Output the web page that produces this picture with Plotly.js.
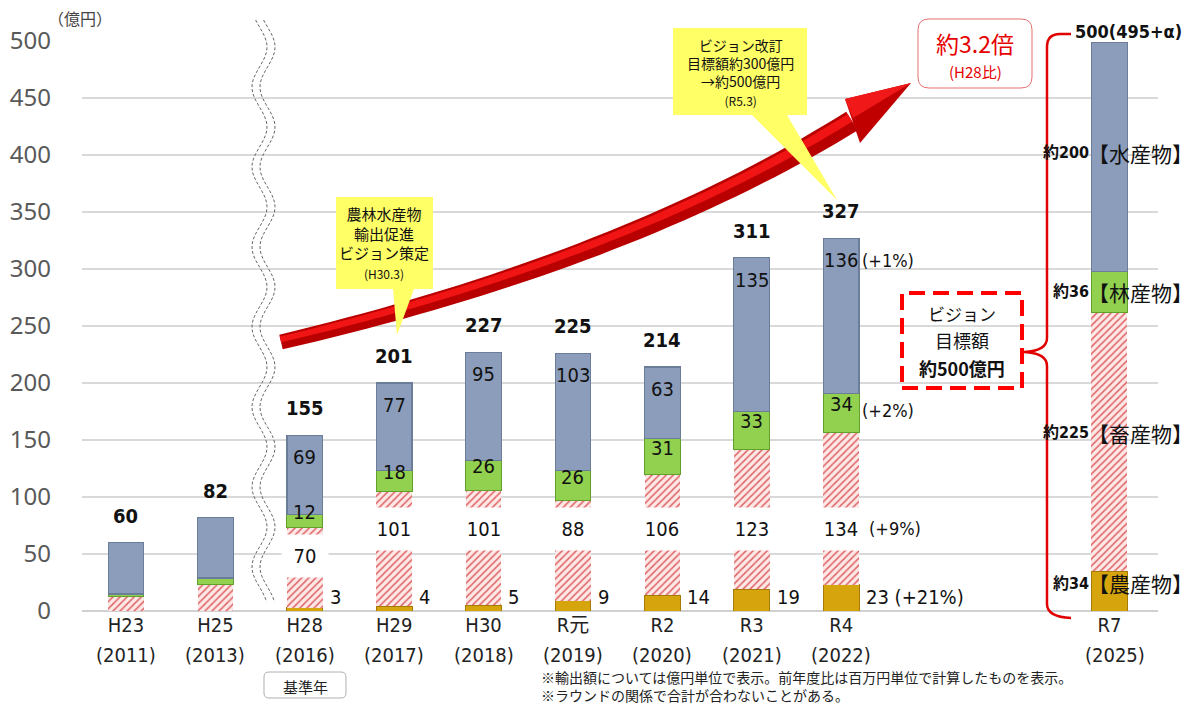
<!DOCTYPE html>
<html><head><meta charset="utf-8">
<script src="https://cdn.plot.ly/plotly-3.0.1.min.js"></script>
<style>html,body{margin:0;padding:0;background:#fff}#chart{width:1196px;height:704px}</style>
</head><body><div id="chart"></div>
<script>
// ---------- data ----------
const categories = ['H23','H25','H28','H29','H30','R元','R2','R3','R4','R7'];
const years = ['2011','2013','2016','2017','2018','2019','2020','2021','2022','2025'];
const agri      = [0, 0, 3, 4, 5, 9, 14, 19, 23, 35];
const livestock = [13, 23, 70, 101, 101, 88, 106, 123, 134, 227];
const forest    = [2, 6, 12, 18, 26, 26, 31, 33, 34, 36];
const fishery   = [45, 53, 69, 77, 95, 103, 63, 135, 136, 201];
const totalLabels     = ['60','82','155','201','227','225','214','311','327','500(495+α)'];
const agriLabels      = ['','','3','4','5','9','14','19','23 (+21%)','約34'];
const livestockLabels = ['','','70','101','101','88','106','123','134','約225'];
const forestLabels    = ['','','12','18','26','26','31','33','34','約36'];
const fisheryLabels   = ['','','69','77','95','103','63','135','136','約200'];
const yoyLivestock = '(+9%)', yoyForest = '(+2%)', yoyFishery = '(+1%)';
const targetNames = ['【農産物】','【畜産物】','【林産物】','【水産物】'];

// ---------- layout helpers ----------
const slot = [0,1,2,3,4,5,6,7,8,11];
const L=82, T=41, W=1076, H=570;
const px = x => (x-L)/W;
const py = y => (T+H-y)/H;
const P = (x,y) => px(x).toFixed(5)+','+py(y).toFixed(5);
const NUM = 'Liberation Sans Narrow, DejaVu Sans Condensed, Liberation Sans, Noto Sans CJK JP, sans-serif';
const JP = 'Noto Sans CJK JP, sans-serif';
const HW = 0.2; // half bar width

const n = categories.length;
const totals = categories.map((_,i)=>agri[i]+livestock[i]+forest[i]+fishery[i]);

const traces = [
  {name:'農産物', y:agri, marker:{color:'#d6a40c', line:{color:'#a47c05', width:1}}},
  {name:'畜産物', y:livestock, marker:{color:'#fde8e8', line:{width:0},
     pattern:{shape:'/', fgcolor:'#e06464', bgcolor:'#fde8e8', size:5, solidity:0.3}}},
  {name:'林産物', y:forest, marker:{color:'#92d050', line:{color:'#62a02c', width:1}}},
  {name:'水産物', y:fishery, marker:{color:'#8b9dba', line:{color:'#6b7d99', width:1.2}}}
].map(t=>Object.assign(t,{type:'bar', x:slot, width:0.4, hoverinfo:'skip', showlegend:false}));

const ann = [];
const A = (o)=>ann.push(Object.assign({showarrow:false, xref:'x', yref:'y', xanchor:'center', yanchor:'middle'}, o));
const F = (s)=>({family:NUM, size:s, color:'#111'});
for (let i=0;i<n-1;i++){
  A({x:slot[i], y:totals[i], yshift:27, text:'<b>'+totalLabels[i]+'</b>', font:F(20)});
  if (!fisheryLabels[i]) continue;
  A({x:slot[i], y:totals[i], yshift:-22, text:fisheryLabels[i], font:F(20)});
  A({x:slot[i], y:agri[i]+livestock[i]+forest[i]/2, yshift:9, text:forestLabels[i], font:F(20)});
  A({x:slot[i], y:(i===2?48:72), text:livestockLabels[i], bgcolor:'#ffffff', width:44, height:40, font:F(20)});
  A({x:slot[i]+HW, xanchor:'left', xshift:5, y:12, text:agriLabels[i], font:F(20)});
}
// year-on-year notes for R4
const r4 = 8;
A({x:slot[r4]+HW, xanchor:'left', xshift:1, y:totals[r4], yshift:-22, text:yoyFishery, font:F(18)});
A({x:slot[r4]+HW, xanchor:'left', xshift:1, y:agri[r4]+livestock[r4]+forest[r4]/2, yshift:2, text:yoyForest, font:F(18)});
A({x:slot[r4]+HW, xanchor:'left', xshift:8, y:72, text:yoyLivestock, font:F(18)});
// R7 target labels
const r7 = 9;
A({x:slot[r7], xanchor:'left', xshift:-36, y:totals[r7], yshift:11, text:'<b>'+totalLabels[r7]+'</b>', font:F(18)});
const segs = [agri, livestock, forest, fishery];
const segLabels = [agriLabels, livestockLabels, forestLabels, fisheryLabels];
const segShift = [8, 9, 0, 4];
let base = 0;
segs.forEach((s,k)=>{
  const mid = base + s[r7]/2; base += s[r7];
  A({x:slot[r7]-HW, xanchor:'right', xshift:0, y:mid, yshift:segShift[k], text:'<b>'+segLabels[k][r7]+'</b>', font:F(16)});
  A({x:slot[r7]-HW, xanchor:'left', xshift:-5, y:mid, yshift:segShift[k], text:targetNames[k], font:{family:JP, size:21, color:'#111'}});
});
// year lines under category ticks
categories.forEach((c,i)=>ann.push({showarrow:false, xref:'x', yref:'paper', x:slot[i], y:py(655), xanchor:'center', yanchor:'middle',
  xshift:(i===r7?6:0), text:'('+years[i]+')', font:{family:NUM, size:20, color:'#222'}}));

// paper annotations (pixel helper)
const AP = (x,y,o)=>ann.push(Object.assign({showarrow:false, xref:'paper', yref:'paper', x:px(x), y:py(y), xanchor:'center', yanchor:'middle'}, o));
AP(80,18,{text:'（億円）', font:{family:JP, size:16, color:'#444'}});
AP(384,242,{text:'農林水産物<br>輸出促進<br>ビジョン策定<br><span style="font-size:12px">(H30.3)</span>', font:{family:JP, size:15, color:'#111'}});
AP(740,72,{text:'ビジョン改訂<br>目標額約300億円<br>→約500億円<br><span style="font-size:12px">(R5.3)</span>', font:{family:JP, size:14, color:'#111'}});
AP(975,43,{text:'約3.2倍', font:{family:JP, size:23, color:'#e60000'}});
AP(975,71,{text:'(H28比)', font:{family:JP, size:15, color:'#e60000'}});
AP(962,313,{text:'ビジョン', font:{family:JP, size:17, color:'#111'}});
AP(962,340,{text:'目標額', font:{family:JP, size:18, color:'#111'}});
AP(962,368,{text:'<b>約500億円</b>', font:{family:JP, size:18, color:'#111'}});
AP(305,686,{text:'基準年', font:{family:JP, size:15, color:'#222'}});
AP(539,677,{xanchor:'left', text:'※輸出額については億円単位で表示。前年度比は百万円単位で計算したものを表示。', font:{family:JP, size:14, color:'#222'}});
AP(539,695,{xanchor:'left', text:'※ラウンドの関係で合計が合わないことがある。', font:{family:JP, size:14, color:'#222'}});

// ---------- shapes ----------
const shapes = [];
const S = (path, o)=>shapes.push(Object.assign({type:'path', xref:'paper', yref:'paper', path, layer:'above', line:{width:0}}, o));
const poly = pts => 'M'+pts.map(p=>P(p[0],p[1])).join(' L')+' Z';
const line = pts => 'M'+pts.map(p=>P(p[0],p[1])).join(' L');

// axis break (double wavy dashed line)
[-4,4].forEach(off=>{
  const pts=[];
  for(let y=20;y<=604;y+=3){ pts.push([263.5+off+7.5*Math.sin(2*Math.PI*(y-47)/80+Math.PI/2), y]); }
  S(line(pts),{line:{color:'#666', width:1, dash:'3px,2px'}});
});

// red curved arrow
(function(){
  const P0=[281,342], P1=[626,261], P2=[852,121];
  const up=[], lo=[], up2=[], lo2=[];
  for(let k=0;k<=40;k++){
    const t=k/40, a=(1-t)*(1-t), b=2*(1-t)*t, c=t*t;
    const x=a*P0[0]+b*P1[0]+c*P2[0], y=a*P0[1]+b*P1[1]+c*P2[1];
    const dx=2*(1-t)*(P1[0]-P0[0])+2*t*(P2[0]-P1[0]);
    const dy=2*(1-t)*(P1[1]-P0[1])+2*t*(P2[1]-P1[1]);
    const len=Math.hypot(dx,dy), nx=dy/len, ny=-dx/len;
    const w=(15+7*t)/2;
    up.push([x+nx*w, y+ny*w]); lo.push([x-nx*w, y-ny*w]);
    up2.push([x+nx*w*0.75, y+ny*w*0.75]); lo2.push([x-nx*w*0.05, y-ny*w*0.05]);
  }
  S(poly(up.concat(lo.reverse())),{fillcolor:'#b80000'});
  S(poly(up2.concat(lo2.reverse())),{fillcolor:'#f01414'});
  S(poly([[911,83],[845,99],[860,143]]),{fillcolor:'#c00000'});
  S(poly([[911,83],[845,99],[853,118]]),{fillcolor:'#f01818'});
})();

// callouts
S(poly([[336,197],[433,197],[433,289],[414,289],[397,335],[393,289],[336,289]]),{fillcolor:'#ffff66'});
S(poly([[673,28],[807,28],[807,115],[787,115],[837,200],[752,115],[673,115]]),{fillcolor:'#ffff66'});

// rounded boxes
const rrect=(x0,y0,x1,y1,r)=>'M'+P(x0+r,y0)+' L'+P(x1-r,y0)+' Q'+P(x1,y0)+' '+P(x1,y0+r)+' L'+P(x1,y1-r)+' Q'+P(x1,y1)+' '+P(x1-r,y1)+
  ' L'+P(x0+r,y1)+' Q'+P(x0,y1)+' '+P(x0,y1-r)+' L'+P(x0,y0+r)+' Q'+P(x0,y0)+' '+P(x0+r,y0)+' Z';
S(rrect(918,19,1032,88,11),{fillcolor:'#ffffff', line:{color:'#e57070', width:1}});
S(rrect(264,672,346,698,5),{fillcolor:'rgba(0,0,0,0)', line:{color:'#b0b0b0', width:1}});

// brace
S('M'+P(1071,34)+' L'+P(1060,34)+' Q'+P(1047,34)+' '+P(1047,47)+' L'+P(1047,338)+' Q'+P(1047,351)+' '+P(1024,352)+
  ' Q'+P(1047,353)+' '+P(1047,366)+' L'+P(1047,604)+' Q'+P(1047,617)+' '+P(1071,618),
  {line:{color:'#e00000', width:2.5}});

// dashed target box
shapes.push({type:'rect', xref:'paper', yref:'paper', x0:px(902), x1:px(1022), y0:py(388), y1:py(293),
  line:{color:'#ff0000', width:4, dash:'16px,8px'}, fillcolor:'rgba(0,0,0,0)', layer:'above'});

const layout = {
  width:1196, height:704,
  margin:{l:L, r:1196-L-W, t:T, b:704-T-H, pad:0},
  paper_bgcolor:'#fff', plot_bgcolor:'#fff',
  barmode:'stack', bargap:0,
  xaxis:{range:[-0.492, 11.544], tickvals:slot, ticktext:categories,
    showgrid:false, zeroline:false, showline:false, ticks:'', fixedrange:true, ticklabelstandoff:0,
    tickfont:{family:NUM, size:20, color:'#222'}},
  yaxis:{range:[0,500], tickvals:[0,50,100,150,200,250,300,350,400,450,500], showgrid:true, gridcolor:'#d9d9d9', gridwidth:1.5,
    zeroline:true, zerolinecolor:'#d0d0d0', zerolinewidth:1.5, showline:false, ticks:'', ticklabelstandoff:30,
    tickfont:{family:'Noto Sans, sans-serif', size:24, color:'#595959'}},
  annotations:ann, shapes:shapes, showlegend:false
};
Plotly.newPlot('chart', traces, layout, {displayModeBar:false, staticPlot:true});
</script></body></html>
